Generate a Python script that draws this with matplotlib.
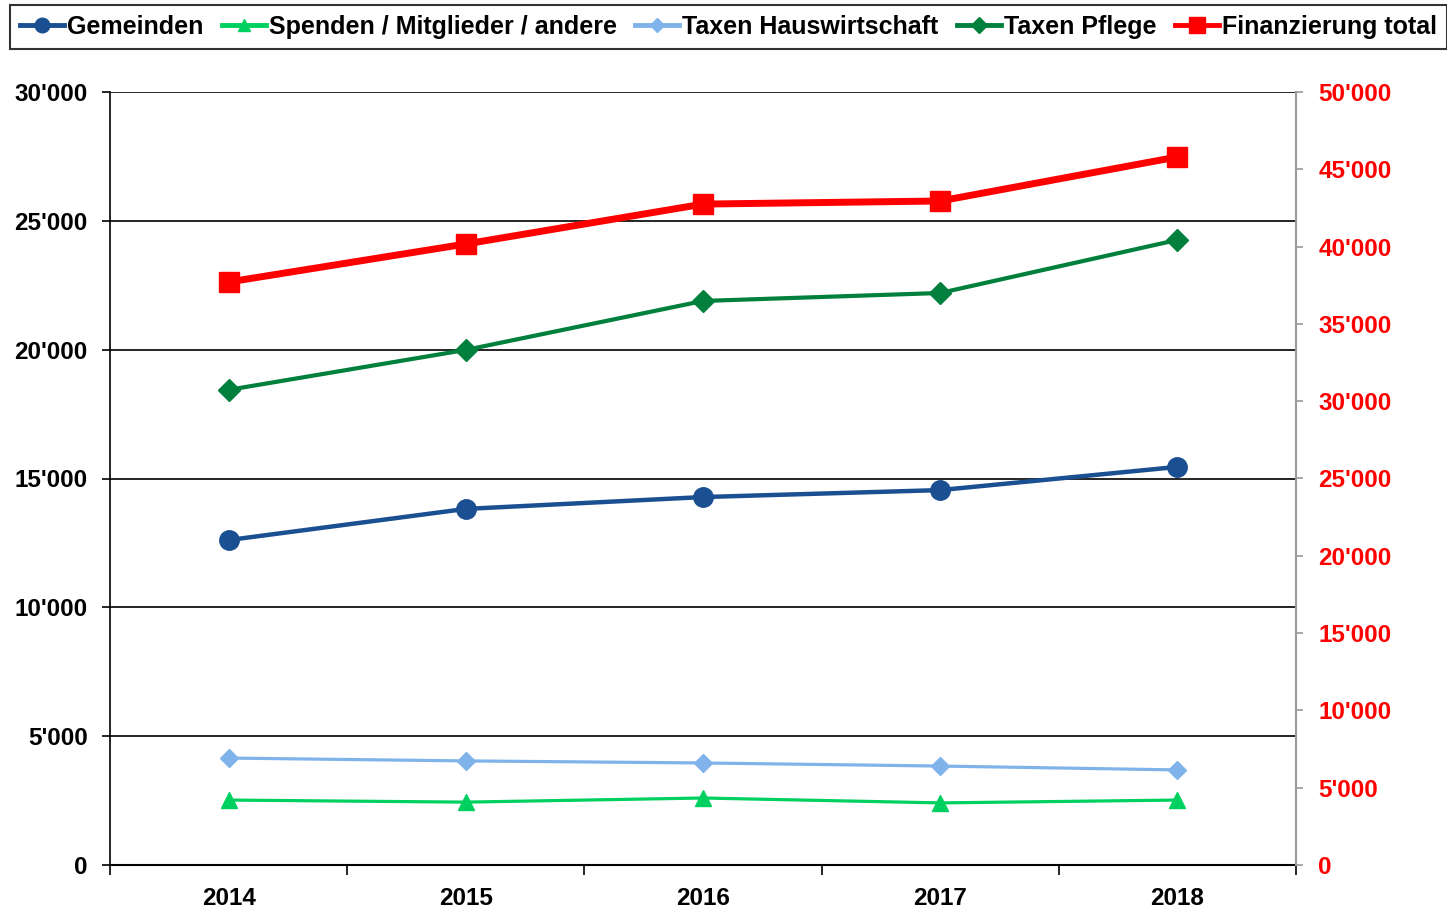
#!/usr/bin/env python3
"""Finanzierung 2014-2018: Gemeinden, Spenden, Taxen (linke Achse) und total (rechte Achse)."""

import matplotlib
matplotlib.use('Agg')
import matplotlib.pyplot as plt
from matplotlib.ticker import FuncFormatter, MultipleLocator, FixedLocator

plt.rcParams['font.family'] = ['Liberation Sans', 'DejaVu Sans']
plt.rcParams['font.weight'] = 'bold'

years = ["2014", "2015", "2016", "2017", "2018"]
gemeinden = [12610, 13820, 14280, 14550, 15450]
spenden = [2520, 2440, 2600, 2410, 2520]
taxen_hw = [4150, 4040, 3960, 3840, 3690]
taxen_pflege = [18440, 19990, 21890, 22200, 24260]
total = [37710, 40170, 42750, 42950, 45800]


def apostroph(v, pos):
    return f"{int(round(v)):,}".replace(",", "'")


def main():
    fig = plt.figure(figsize=(14.47, 9.10), dpi=100)
    ax = fig.add_axes([110 / 1447, 1 - 865 / 910, (1296 - 110) / 1447, (865 - 92) / 910])
    ax2 = ax.twinx()

    x = list(range(len(years)))
    h1, = ax.plot(x, gemeinden, color='#1a4f91', lw=3.2, marker='o', ms=14,
                  label='Gemeinden', zorder=4)
    h2, = ax.plot(x, spenden, color='#00d060', lw=2.3, marker='^', ms=11,
                  label='Spenden / Mitglieder / andere', zorder=4)
    h3, = ax.plot(x, taxen_hw, color='#80b3ea', lw=2.3, marker='D', ms=9,
                  label='Taxen Hauswirtschaft', zorder=4)
    h4, = ax.plot(x, taxen_pflege, color='#00803c', lw=3, marker='D', ms=11,
                  label='Taxen Pflege', zorder=4)
    h5, = ax2.plot(x, total, color='#ff0000', lw=5, marker='s', ms=15,
                   label='Finanzierung total', zorder=4)

    ax.set_xlim(-0.5, 4.5)
    ax.set_ylim(0, 30000)
    ax2.set_ylim(0, 50000)

    ax.yaxis.set_major_locator(MultipleLocator(5000))
    ax2.yaxis.set_major_locator(MultipleLocator(5000))
    ax.yaxis.set_major_formatter(FuncFormatter(apostroph))
    ax2.yaxis.set_major_formatter(FuncFormatter(apostroph))

    ax.set_xticks(x)
    ax.set_xticklabels(years)
    ax.xaxis.set_minor_locator(FixedLocator([i - 0.5 for i in range(len(years) + 1)]))
    ax.tick_params(axis='x', which='major', length=0, pad=16, labelsize=17.5)
    ax.tick_params(axis='x', which='minor', length=7, width=1.2, color='black',
                   direction='out')
    ax.tick_params(axis='y', length=6, width=1.2, pad=10, labelsize=17.5)
    ax2.tick_params(axis='y', length=5, width=1.2, pad=11, labelsize=17.5,
                    colors='#ff0000', color='#999999')

    ax.grid(axis='y', color='black', lw=1.2)
    ax.set_axisbelow(True)
    for a in (ax, ax2):
        a.spines['top'].set_visible(False)
    ax.spines['right'].set_visible(False)
    ax2.spines['left'].set_visible(False)
    ax2.spines['bottom'].set_visible(False)
    ax2.spines['right'].set_color('#999999')
    ax2.spines['right'].set_linewidth(1.5)
    ax.spines['left'].set_linewidth(1.2)
    ax.spines['bottom'].set_linewidth(1.5)

    leg = fig.legend(handles=[h1, h2, h3, h4, h5], ncol=5, loc='upper left',
                     bbox_to_anchor=(10 / 1447, 1 - 5 / 910), fontsize=18,
                     frameon=True, fancybox=False, edgecolor='black',
                     handlelength=1.75, handletextpad=0.12, columnspacing=0.75,
                     borderpad=0.4, borderaxespad=0, markerscale=0.75)
    leg.get_frame().set_linewidth(1.5)
    for line in leg.get_lines():
        line.set_linewidth(3.5)

    fig.savefig("out.png", dpi=100)
    plt.close(fig)


if __name__ == "__main__":
    main()
